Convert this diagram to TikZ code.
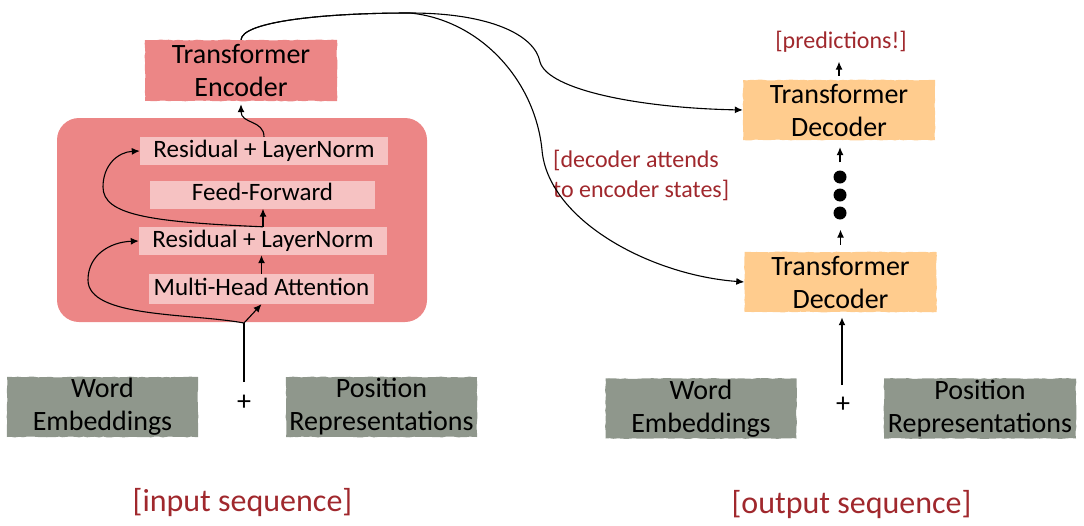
\documentclass[tikz,border=0pt]{standalone}
\usepackage{fontspec}
\setmainfont{Carlito}
\usetikzlibrary{arrows.meta,decorations.pathmorphing}

\definecolor{encred}{RGB}{236,134,134}
\definecolor{layerpink}{RGB}{246,194,194}
\definecolor{decorange}{RGB}{255,204,142}
\definecolor{embgray}{RGB}{143,151,140}
\definecolor{notered}{RGB}{160,40,45}

\begin{document}
\pgfmathsetseed{7}
\begin{tikzpicture}[x=1pt,y=-1pt,
  rough/.style={decorate, decoration={random steps, segment length=4pt, amplitude=0.45pt}},
  bigbox/.style={rough, inner sep=0pt, align=center, font=\fontsize{28}{33}\selectfont},
  encbox/.style={bigbox, fill=encred, minimum width=192pt, minimum height=61pt},
  decbox/.style={bigbox, fill=decorange, minimum width=192pt, minimum height=60pt},
  embbox/.style={bigbox, fill=embgray, minimum width=191pt, minimum height=60pt},
  layer/.style={fill=layerpink, inner sep=0pt, minimum height=28pt,
    text height=17pt, text depth=5pt, font=\fontsize{25}{30}\selectfont},
  tip/.style={-{Latex[length=8pt,width=7pt]}},
  link/.style={line width=1.1pt, tip},
  feed/.style={line width=2.6pt},
  dot/.style={circle, fill=black, inner sep=0pt, minimum size=13pt},
  plus/.style={inner sep=0pt, font=\fontsize{28}{33}\selectfont},
  note/.style={text=notered, inner sep=0pt, font=\fontsize{24}{30}\selectfont},
  seq/.style={text=notered, inner sep=0pt, font=\fontsize{32}{38}\selectfont}]
\useasboundingbox (0,0) rectangle (1084,525);

% ---------------- encoder side ----------------
\node[fill=encred, minimum width=370pt, minimum height=204pt, rounded corners=22pt] (block) at (242,220) {};
\node[encbox] (enc) at (241,70.5) {Transformer\\Encoder};

\node[layer, minimum width=248pt] (rl2) at (264,151) {Residual + LayerNorm};
\node[layer, minimum width=225pt] (ff)  at (262.5,194.5) {Feed-Forward};
\node[layer, minimum width=248pt] (rl1) at (263,241) {Residual + LayerNorm};
\node[layer, minimum width=225pt, minimum height=30pt] (mha) at (261.5,289) {Multi-Head Attention};

\node[embbox] (we0) at (102.5,407) {Word\\Embeddings};
\node[embbox] (pr0) at (381.5,407) {Position\\Representations};
\node[plus] (plus0) at (244,403) {+};

\coordinate (in0) at (244,382);
\coordinate (br) at (244,323);

\draw[feed] (in0) -- (br);
\draw[link] (br) -- (mha.south);
\draw[link] (br) .. controls (190,313) and (88,318) .. (88,280)
  .. controls (88,255) and (110,242) .. (rl1.west);
\draw[link] (mha.north) -- (mha.north |- rl1.south);
\draw[link] (rl1.north) -- (rl1.north |- ff.south);
\draw[link] (rl1.north) .. controls (150,222) and (103,215) .. (103,187)
  .. controls (103,165) and (118,152) .. (rl2.west);
\draw[link, shorten >=3pt] (rl2.north) .. controls (264,120) and (241,124) .. (enc.south);

\node[seq] (inseq) at (242.5,503) {[input sequence]};

% ---------------- decoder side ----------------
\node[decbox] (dec2) at (839,110) {Transformer\\Decoder};
\node[decbox] (dec1) at (840.5,282) {Transformer\\Decoder};

\node[dot] (d1) at (840,177) {};
\node[dot] (d2) at (840,195) {};
\node[dot] (d3) at (840,213) {};

\node[note, text height=18pt, text depth=5pt] (pred) at (841,42) {[predictions!]};

\node[embbox] (we1) at (701,408.5) {Word\\Embeddings};
\node[embbox, minimum width=192pt] (pr1) at (980,408.5) {Position\\Representations};
\node[plus] (plus1) at (843,405) {+};

\coordinate (in1) at (842,385);
\draw[feed, tip, shorten >=5pt] (in1) -- (in1 |- dec1.south);

\draw[link, shorten <=7pt, shorten >=10pt] (dec1.north) -- (dec1.north |- d3.south);
\draw[link, shorten <=8pt, shorten >=7pt] (d1.north) -- (d1.north |- dec2.south);
\draw[link, shorten <=4pt, shorten >=8pt] (dec2.north) -- (dec2.north |- pred.south);

\node[note, anchor=west, align=left] (att) at (553,175) {[decoder attends\\to encoder states]};

\node[seq] (outseq) at (851.5,505) {[output sequence]};

% ---------------- encoder states to decoders ----------------
\draw[link] (enc.north) .. controls (242,22) and (320,13) .. (410,13)
  .. controls (490,13) and (535,35) .. (540,62)
  .. controls (548,90) and (640,108) .. (dec2.west);
\draw[link] (enc.north) .. controls (242,22) and (320,13) .. (410,13)
  .. controls (480,20) and (535,80) .. (542,150)
  .. controls (548,220) and (650,275) .. (dec1.west);
\end{tikzpicture}
\end{document}
